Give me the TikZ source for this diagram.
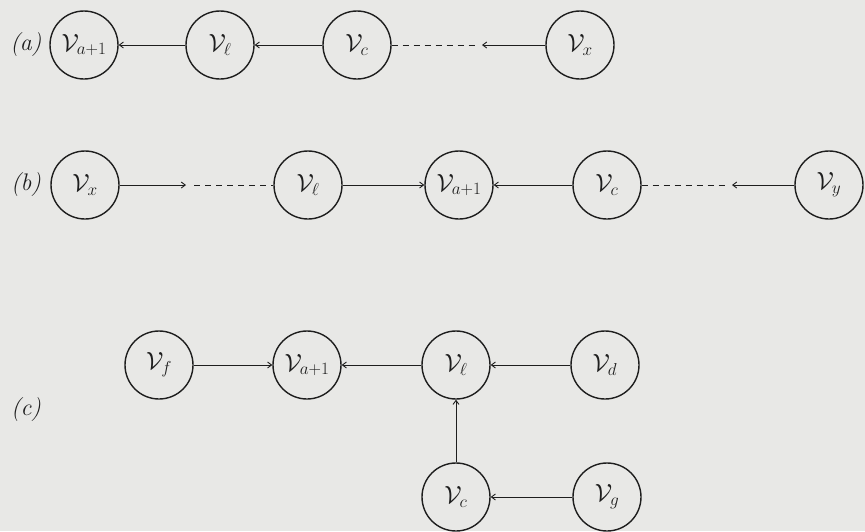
\documentclass[tikz,border=0pt]{standalone}
\usetikzlibrary{arrows.meta}
\definecolor{paper}{RGB}{232,232,230}
\definecolor{ink}{RGB}{30,30,30}
\newcommand{\vsub}[1]{$\mathcal{V}_{\mbox{\fontsize{17}{19}\selectfont$#1$}}$}
\begin{document}
\begin{tikzpicture}[x=1pt,y=-1pt,
  vtx/.style={circle,draw=ink,line width=1.4pt,minimum size=68pt,inner sep=0pt,font=\fontsize{25}{28}\selectfont,text=ink},
  arr/.style={draw=ink,line width=0.9pt,-{Straight Barb[length=4pt,width=6pt]}},
  dsh/.style={draw=ink,line width=0.9pt,dash pattern=on 6pt off 5pt},
  lab/.style={font=\fontsize{24}{28}\selectfont\itshape,text=ink}]
\fill[paper] (0,0) rectangle (865,531);
\useasboundingbox (0,0) rectangle (865,531);
% row a
\node[lab] (la) at (26,45) {(a)};
\node[vtx] (a1) at (84,45) {\vsub{a{+}1}};
\node[vtx] (a2) at (220,45) {\vsub{\ell}};
\node[vtx] (a3) at (357,45) {\vsub{c}};
\node[vtx] (a4) at (580,45) {\vsub{x}};
\coordinate (am) at (482,45);
\coordinate (ad) at (478,45);
\draw[arr] (a2) -- (a1);
\draw[arr] (a3) -- (a2);
\draw[dsh] (a3.east) -- (ad);
\draw[arr] (a4) -- (am);
% row b
\node[lab] (lb) at (26,185) {(b)};
\node[vtx] (b1) at (85,185) {\vsub{x}};
\node[vtx] (b2) at (308,185) {\vsub{\ell}};
\node[vtx] (b3) at (459,185) {\vsub{a{+}1}};
\node[vtx] (b4) at (607,185) {\vsub{c}};
\node[vtx] (b5) at (829,185) {\vsub{y}};
\coordinate (bm) at (186,185);
\coordinate (bd) at (194,185);
\coordinate (bn) at (732,185);
\coordinate (be) at (728,185);
\draw[arr] (b1) -- (bm);
\draw[dsh] (bd) -- (b2.west);
\draw[arr] (b2) -- (b3);
\draw[arr] (b4) -- (b3);
\draw[dsh] (b4.east) -- (be);
\draw[arr] (b5) -- (bn);
% row c
\node[lab] (lc) at (26,410) {(c)};
\node[vtx] (c1) at (159,365) {\vsub{f}};
\node[vtx] (c2) at (307,365) {\vsub{a{+}1}};
\node[vtx] (c3) at (456,365) {\vsub{\ell}};
\node[vtx] (c4) at (605,365) {\vsub{d}};
\node[vtx] (c5) at (456,497) {\vsub{c}};
\node[vtx] (c6) at (607,497) {\vsub{g}};
\draw[arr] (c1) -- (c2);
\draw[arr] (c3) -- (c2);
\draw[arr] (c4) -- (c3);
\draw[arr] (c5) -- (c3);
\draw[arr] (c6) -- (c5);
\end{tikzpicture}
\end{document}
